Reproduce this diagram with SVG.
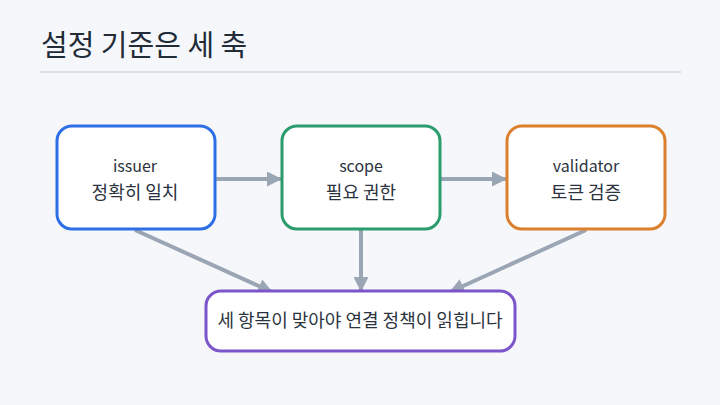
<svg xmlns="http://www.w3.org/2000/svg" width="720" height="405" viewBox="0 0 720 405">
<defs>
<marker id="ah" markerWidth="15" markerHeight="15" refX="14" refY="7.5" orient="auto" markerUnits="userSpaceOnUse" viewBox="0 0 15 15">
<path d="M0,0 L15,7.5 L0,15 z" fill="#9ba6b5"/>
</marker>
<style>
.t{font-family:"Noto Sans CJK KR","Noto Sans",sans-serif;fill:#2b3340;text-anchor:middle;font-size:16px;font-feature-settings:"palt"}
.k{font-size:18px}
.box{fill:#ffffff;stroke-width:3}
.c{stroke:#9ba6b5;stroke-width:4;fill:none;marker-end:url(#ah)}
</style>
</defs>
<rect width="720" height="405" fill="#f6f7fb"/>
<text x="41" y="56" font-family="Noto Sans CJK KR,Noto Sans,sans-serif" font-size="29" fill="#222b38" style="font-feature-settings:'palt'">설정 기준은 세 축</text>
<rect x="40" y="71" width="641" height="2" fill="#dbe0e7"/>
<g id="connectors">
<line class="c" x1="216" y1="179" x2="281" y2="179"/>
<line class="c" x1="441" y1="179" x2="506" y2="179"/>
<line class="c" x1="135" y1="230" x2="272" y2="292"/>
<line class="c" x1="361" y1="230" x2="361" y2="291"/>
<line class="c" x1="586" y1="230" x2="450" y2="292"/>
</g>
<g id="issuer">
<rect class="box" x="57" y="126" width="158" height="103" rx="15" stroke="#2f6fe6"/>
<text class="t" x="135" y="172">issuer</text>
<text class="t k" x="135" y="199">정확히 일치</text>
</g>
<g id="scope">
<rect class="box" x="282" y="126" width="158" height="103" rx="15" stroke="#2a9c6e"/>
<text class="t" x="361" y="172">scope</text>
<text class="t k" x="361" y="199">필요 권한</text>
</g>
<g id="validator">
<rect class="box" x="507" y="126" width="158" height="103" rx="15" stroke="#dc802d"/>
<text class="t" x="586" y="172">validator</text>
<text class="t k" x="586" y="199">토큰 검증</text>
</g>
<g id="result">
<rect class="box" x="206" y="291" width="309" height="60" rx="15" stroke="#7b55c9"/>
<text class="t k" x="360" y="327">세 항목이 맞아야 연결 정책이 읽힙니다</text>
</g>
</svg>
